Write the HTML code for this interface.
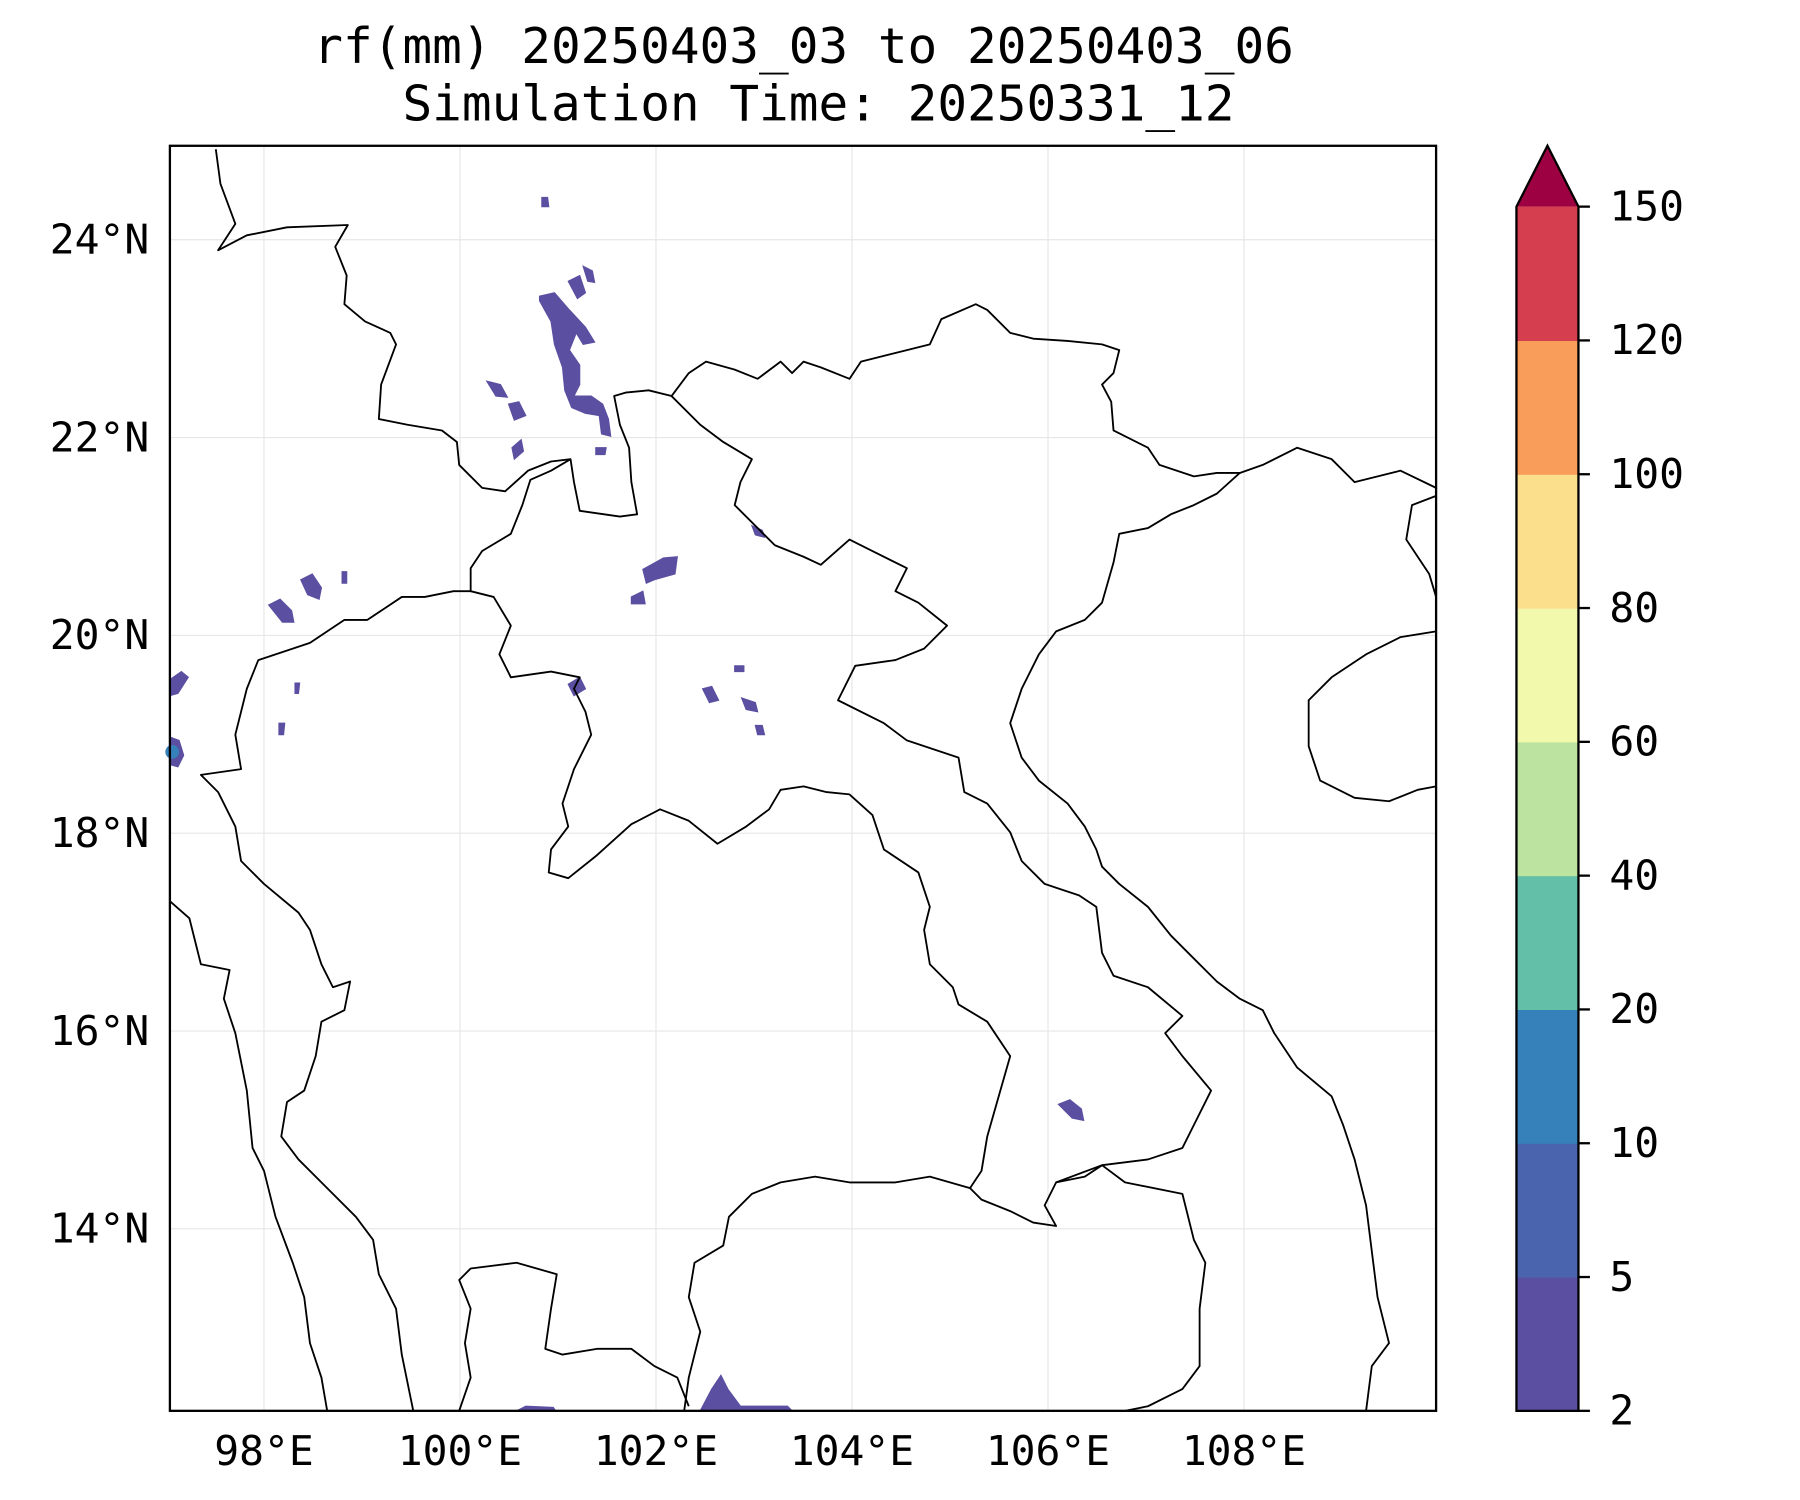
<!DOCTYPE html>
<html><head><meta charset="utf-8"><style>
html,body{margin:0;padding:0;background:#fff}
svg{display:block}
text{font-family:"DejaVu Sans Mono","Liberation Mono",monospace;fill:#000}
</style></head><body>
<svg id="chart" xmlns="http://www.w3.org/2000/svg" width="1800" height="1500" viewBox="0 0 1568 1306.67">
<rect width="1568" height="1306.67" fill="#fff"/>
<text x="700" y="55" font-size="43" text-anchor="middle">rf(mm) 20250403_03 to 20250403_06</text>
<text x="713" y="105" font-size="43" text-anchor="middle">Simulation Time: 20250331_12</text>
<g id="grid"></g>
<g id="precip" fill="#5b4fa1" stroke="#5b4fa1" stroke-width="1">
<path d="M470,258 L483,255 L496,270 L510,285 L518,298 L508,300 L502,290 L496,305 L505,318 L505,335 L500,345 L515,345 L525,352 L530,365 L532,380 L524,378 L522,362 L510,360 L498,355 L492,340 L490,320 L483,300 L480,280 L470,262 Z"/>
<path d="M495,245 L505,240 L510,255 L503,260 Z"/>
<path d="M508,232 L516,236 L518,246 L512,245 Z"/>
<path d="M424,332 L436,335 L442,346 L432,345 Z"/>
<path d="M443,352 L452,350 L458,362 L448,366 Z"/>
<path d="M446,390 L454,383 L456,393 L448,400 Z"/>
<path d="M472,172 L477,172 L478,180 L472,180 Z"/>
<path d="M234,527 L244,522 L254,532 L256,542 L246,542 Z"/>
<path d="M262,505 L272,500 L280,512 L278,522 L268,518 Z"/>
<path d="M148,592 L158,585 L164,590 L155,604 L148,606 Z"/>
<path d="M148,642 L156,645 L160,658 L155,668 L148,666 Z"/>
<path d="M560,496 L578,486 L590,485 L588,500 L570,505 L563,508 Z"/>
<path d="M550,520 L560,515 L562,526 L550,526 Z"/>
<path d="M495,596 L505,590 L510,600 L500,606 Z"/>
<path d="M612,600 L620,598 L626,610 L618,612 Z"/>
<path d="M646,608 L658,612 L660,620 L650,618 Z"/>
<path d="M640,580 L648,580 L648,585 L640,585 Z"/>
<path d="M658,632 L664,632 L666,640 L660,640 Z"/>
<path d="M922,962 L932,958 L942,966 L944,976 L934,974 Z"/>
<path d="M450,1229 L458,1225 L482,1226 L484,1229 Z"/>
<path d="M620,1210 L628,1198 L634,1210 L645,1225 L686,1225 L690,1229 L610,1229 Z"/>
<path d="M655,458 L664,462 L666,468 L658,466 Z"/>
<path d="M243,630 L248,630 L247,640 L243,640 Z"/>
<path d="M257,595 L261,595 L260,604 L257,604 Z"/>
<path d="M298,498 L302,498 L302,508 L298,508 Z"/>
<path d="M519,390 L528,390 L527,396 L519,396 Z"/>
<circle cx="150" cy="655" r="6" fill="#3681b9" stroke="none"/>
</g>
<g fill="none" stroke="#000" stroke-width="1.6" stroke-linejoin="round">
<polyline points="188,130 192,160 205,195 190,218 215,205 250,198 303,196 292,215 302,240 300,265 318,280 340,290 345,300 332,335 330,365 355,370 385,375 398,385 400,405 420,425 440,428 460,410 480,402 497,400 500,420 505,445 540,450 555,448 550,420 548,390 540,370 535,345 545,342 565,340 585,345 600,325 615,315 640,322 660,330 680,315 690,325 700,315 715,320 740,330 750,315 790,305 810,300 820,278 850,265 860,270 880,290 900,295 930,297 960,300 975,305 970,325 960,335 968,350 970,375 1000,390 1010,405 1040,415 1060,412 1080,412 1100,405 1130,390 1160,400 1180,420 1220,410 1251,425"/>
<polyline points="585,345 610,370 630,385 655,400 645,420 640,440 660,460 675,475 700,485 715,492 740,470 760,480 790,495 780,515 800,525 825,545 805,565 780,575 745,580 730,610 770,630 790,645 835,660 840,690 860,700 880,725 890,750 910,770 940,780 955,790 960,830 970,850 1000,860 1030,885 1015,900 1030,920 1055,950 1040,980 1030,1000 1000,1010 960,1015 945,1025 920,1030 910,1050 920,1068 900,1065 880,1055 855,1045 845,1035"/>
<polyline points="1080,412 1060,430 1040,440 1020,448 1000,460 975,465 970,490 960,525 945,540 920,550 905,570 890,600 880,630 890,660 905,680 930,700 945,720 955,740 960,755 975,770 1000,790 1020,815 1040,835 1060,855 1080,870 1100,880 1110,900 1130,930 1160,955 1170,980 1180,1010 1190,1050 1195,1090 1200,1130 1210,1170 1195,1190 1190,1229"/>
<polyline points="1251,550 1220,555 1190,570 1160,590 1140,610 1140,650 1150,680 1180,695 1210,698 1235,688 1251,685"/>
<polyline points="1251,432 1230,440 1225,470 1245,500 1251,520"/>
<polyline points="497,400 480,410 462,418 455,440 445,465 420,480 410,495 410,515 395,515 370,520 350,520 320,540 300,540 270,560 240,570 225,575 215,600 205,640 210,670 175,675 190,690 205,720 210,750 230,770 260,795 270,810 280,840 290,860 305,855 300,880 280,890 275,920 265,950 250,960 245,990 260,1010 285,1035 310,1060 325,1080 330,1110 345,1140 350,1180 360,1229"/>
<polyline points="148,785 165,800 175,840 200,845 195,870 205,900 215,950 220,1000 230,1020 240,1060 255,1100 265,1130 270,1170 280,1200 285,1229"/>
<polyline points="410,515 430,520 445,545 435,570 445,590 480,585 505,590 500,600 510,620 515,640 500,670 490,700 495,720 480,740 478,760 495,765 520,745 550,718 575,705 600,715 625,735 650,720 670,705 680,688 700,685 720,690 740,692 760,710 770,740 800,760 810,790 805,810 810,840 830,860 835,875 860,890 880,920 870,955 860,990 855,1020 845,1035"/>
<polyline points="845,1035 810,1025 780,1030 740,1030 710,1025 680,1030 655,1040 635,1060 630,1085 605,1100 600,1130 610,1160 605,1180 600,1200 596,1229"/>
<polyline points="400,1229 410,1200 405,1170 410,1140 400,1115 410,1105 450,1100 485,1110 480,1140 475,1175 490,1180 520,1175 550,1175 570,1190 590,1200 600,1225"/>
<polyline points="920,1030 960,1015 980,1030 1030,1040 1040,1080 1050,1100 1045,1140 1045,1190 1030,1210 1000,1225 980,1229"/>
</g>
<rect x="148" y="127" width="1103" height="1102" fill="none" stroke="#000" stroke-width="2"/>
<g id="axes"></g>
<g id="cbar"></g>
</svg>
<script>
const lonTicks=[98,100,102,104,106,108];
const latTicks=[24,22,20,18,16,14];
const levels=[2,5,10,20,40,60,80,100,120,150];
const colors=["#5b4fa1","#4a64ad","#3681b9","#64bfa8","#bde3a0","#f2f9ac","#fbdf8c","#f99d5b","#d53e4f"];
const extendColor="#9e0142";
const NS="http://www.w3.org/2000/svg";
const X0=148,X1=1251,Y0=127,Y1=1229,LON0=97.04,LON1=109.96,LAT0=12.16,LAT1=24.95;
function xs(lon){return X0+(lon-LON0)/(LON1-LON0)*(X1-X0);}
function ys(lat){return Y1-(lat-LAT0)/(LAT1-LAT0)*(Y1-Y0);}
function mk(t,a,p){const e=document.createElementNS(NS,t);for(const k in a)e.setAttribute(k,a[k]);p.appendChild(e);return e;}
const grid=document.getElementById('grid'),axes=document.getElementById('axes'),cb=document.getElementById('cbar');
lonTicks.forEach(v=>{
 const l=mk('line',{x1:xs(v),x2:xs(v),y1:Y0,y2:Y1,stroke:'#e6e6e6','stroke-width':1},grid);
 
 
 const t=mk('text',{x:xs(v),y:1276,'font-size':36,'text-anchor':'middle'},axes);
 t.textContent=v+'°E';
 
 
});
latTicks.forEach(v=>{
 const l=mk('line',{x1:X0,x2:X1,y1:ys(v),y2:ys(v),stroke:'#e6e6e6','stroke-width':1},grid);
 
 
 const t=mk('text',{x:130,y:ys(v)+12,'font-size':36,'text-anchor':'end'},axes);
 t.textContent=v+'°N';
 
 
});
const CX0=1321,CX1=1375,CB=1229,CT=180,TIP=127;
const n=colors.length,segH=(CB-CT)/n;
function cy(i){return CB-i*segH;}
colors.forEach((c,i)=>{
 const r=mk('rect',{x:CX0,y:cy(i+1),width:CX1-CX0,height:segH+0.5,fill:c},cb);
 
 
});
const tri=mk('polygon',{points:`${CX0},${CT} ${(CX0+CX1)/2},${TIP} ${CX1},${CT}`,fill:extendColor},cb);


const outline=mk('polygon',{points:`${CX0},${CB} ${CX0},${CT} ${(CX0+CX1)/2},${TIP} ${CX1},${CT} ${CX1},${CB}`,fill:'none',stroke:'#000','stroke-width':2},cb);


levels.forEach((v,i)=>{
 const y=cy(i);
 const l=mk('line',{x1:CX1,x2:CX1+10,y1:y,y2:y,stroke:'#000','stroke-width':2},cb);
 
 
 const t=mk('text',{x:1402,y:y+12,'font-size':36},cb);
 t.textContent=v;
 
 
});
</script>
</body></html>
